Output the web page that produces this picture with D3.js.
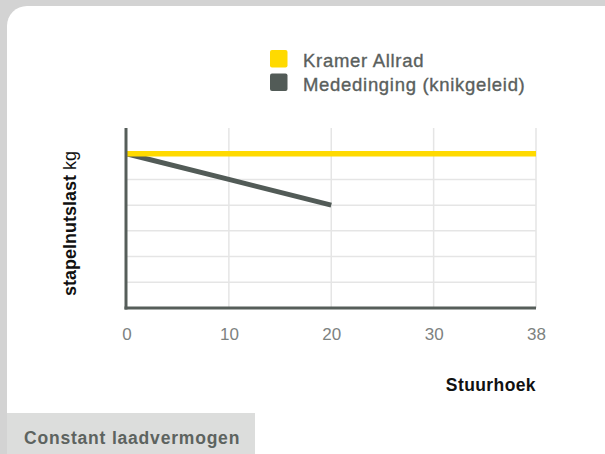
<!DOCTYPE html>
<html><head><meta charset="utf-8">
<script src="https://cdn.jsdelivr.net/npm/d3@7"></script>
<style>
html,body{margin:0;padding:0;background:#d3d3d3;overflow:hidden;}
text{font-family:"Liberation Sans",Arial,Helvetica,sans-serif;}
</style></head>
<body>
<svg id="c" width="605" height="454"></svg>
<script>
const categories = ["0","10","20","30","38"];
const kramerValues = [6, 6, 6, 6, 6];
const competitorValues = [6, 5, 4, null, null];
const yGridValues = [1, 2, 3, 4, 5, 6];
const seriesNames = ["Kramer Allrad", "Mededinging (knikgeleid)"];
const seriesColors = ["#ffda00", "#525b57"];

const svg = d3.select("#c");
svg.append("rect").attr("x",7).attr("y",6).attr("width",620).attr("height",480).attr("rx",20).attr("fill","#fff");

const x = d3.scalePoint().domain(categories).range([126.5, 536]);
const y = d3.scaleLinear().domain([0, 7]).range([308, 128]);

const g = svg.append("g");
// grid
g.selectAll(".hg").data(yGridValues).join("line")
  .attr("x1",126).attr("x2",536).attr("y1",d=>y(d)).attr("y2",d=>y(d))
  .attr("stroke","#e5e5e5").attr("stroke-width",1.5);
g.selectAll(".vg").data(categories.slice(1)).join("line")
  .attr("x1",d=>x(d)).attr("x2",d=>x(d)).attr("y1",y(7)).attr("y2",y(0))
  .attr("stroke","#e5e5e5").attr("stroke-width",1.5);

// x axis labels
const xAxis = d3.axisBottom(x).tickSize(0).tickPadding(0);
const xa = g.append("g").attr("transform",`translate(0,${y(0)})`).call(xAxis);
xa.select(".domain").remove();
xa.selectAll("text").attr("font-size",17).attr("fill","#7d827f").attr("dy",null).attr("y",32)
  .attr("font-family","'Liberation Sans',Arial,sans-serif").attr("font-weight",300);

// lines
const line = d3.line().defined(d=>d.v!=null).x(d=>x(d.c)).y(d=>y(d.v));
const compData = categories.map((c,i)=>({c, v:competitorValues[i]}));
const kramerData = categories.map((c,i)=>({c, v:kramerValues[i]}));
g.append("path").datum(compData).attr("d",line).attr("fill","none")
  .attr("stroke",seriesColors[1]).attr("stroke-width",5);
g.append("path").datum(kramerData).attr("d",line).attr("fill","none")
  .attr("stroke",seriesColors[0]).attr("stroke-width",5.5);

// axes lines
g.append("line").attr("x1",126).attr("x2",126).attr("y1",y(7)).attr("y2",y(0)+1.5)
  .attr("stroke","#565e5a").attr("stroke-width",3);
g.append("line").attr("x1",124.5).attr("x2",536).attr("y1",y(0)).attr("y2",y(0))
  .attr("stroke","#565e5a").attr("stroke-width",3);

// legend
const lg = svg.append("g");
seriesNames.forEach((n,i)=>{
  lg.append("rect").attr("x",270).attr("y",50+i*23.5).attr("width",17.5).attr("height",17.5)
    .attr("rx",2).attr("fill",seriesColors[i]);
  lg.append("text").attr("x",303).attr("y",67+i*23.5).attr("font-size",18.5)
    .attr("letter-spacing",0.7).attr("stroke","#5a605d").attr("stroke-width",0.35)
    .attr("fill","#5a605d").text(n);
});

// y label
const yl = svg.append("text").attr("transform","translate(76,296) rotate(-90)")
  .attr("font-size",18).attr("fill","#111");
yl.append("tspan").attr("font-weight","bold").text("stapelnutslast");
yl.append("tspan").attr("font-weight",300).text(" kg");

// x label
svg.append("text").attr("x",536).attr("y",391).attr("text-anchor","end")
  .attr("font-size",17.5).attr("font-weight","bold").attr("letter-spacing",0.4)
  .attr("fill","#111").text("Stuurhoek");

// bottom tab
svg.append("rect").attr("x",7).attr("y",413).attr("width",248).attr("height",45).attr("fill","#dcdddc");
svg.append("text").attr("x",24).attr("y",444).attr("font-size",17.5).attr("font-weight","bold")
  .attr("letter-spacing",0.8).attr("fill","#5d6360").text("Constant laadvermogen");
</script>
</body></html>
